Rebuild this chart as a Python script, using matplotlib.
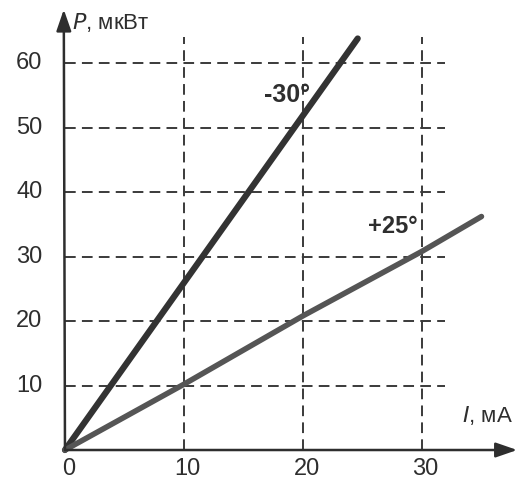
import matplotlib
matplotlib.use("Agg")
import matplotlib.pyplot as plt

plt.rcParams["font.family"] = ["Liberation Sans", "DejaVu Sans"]

INK = "#2e2e2e"
GRID_INK = "#3a3a3a"

# grid / tick values
x_ticks = [0, 10, 20, 30]
y_ticks = [10, 20, 30, 40, 50, 60]
x_grid = [10, 20, 30]

# characteristic lines P(I)
curve_minus30_I = [0, 24.6]
curve_minus30_P = [0, 63.8]
curve_plus25_I = [0, 10, 20, 30, 35.0]
curve_plus25_P = [0, 10.2, 20.8, 30.8, 36.2]

fig = plt.figure(figsize=(5.18, 4.82), dpi=100)
ax = fig.add_axes([0, 0, 1, 1])
ax.set_xlim(-5.46, 38.07)
ax.set_ylim(-4.96, 69.77)
ax.axis("off")

# dashed grid
dash = (0, (5.5, 3.2))
ax.hlines(y_ticks, 0, 31.9, colors=GRID_INK, linestyles=dash, linewidth=1.4)
ax.vlines(x_grid, 0, 64.0, colors=GRID_INK, linestyles=dash, linewidth=1.4)

# axes with arrows
arrow = dict(arrowstyle="-|>,head_length=1.3,head_width=0.45",
             color=INK, linewidth=1.8, shrinkA=0, shrinkB=0)
ax.annotate("", xy=(38.0, 0), xytext=(0, 0), arrowprops=arrow)
ax.annotate("", xy=(-0.1, 68.3), xytext=(0, 0), arrowprops=arrow)

# curves
ax.plot(curve_minus30_I, curve_minus30_P, color="#333333", linewidth=4.5,
        solid_capstyle="round")
ax.plot(curve_plus25_I, curve_plus25_P, color="#555555", linewidth=4.0,
        solid_capstyle="round")

# tick labels
for v in y_ticks:
    ax.text(-1.9, v, str(v), ha="right", va="center", fontsize=17, color=INK)
for v in x_ticks:
    ax.text(v + 0.3, -1.3, str(v), ha="center", va="top", fontsize=17, color=INK)

# axis titles
ax.text(0.6, 66.3, "$\\mathit{P}$, мкВт", ha="left", va="center",
        fontsize=16, color=INK)
ax.text(33.4, 5.4, "$\\mathit{I}$, мА", ha="left", va="center",
        fontsize=16, color=INK)

# curve labels
ax.text(20.6, 55.0, "-30°", ha="right", va="center", fontsize=18,
        fontweight="bold", color=INK)
ax.text(29.6, 34.6, "+25°", ha="right", va="center", fontsize=17,
        fontweight="bold", color=INK)

fig.savefig("out.png", dpi=100)
